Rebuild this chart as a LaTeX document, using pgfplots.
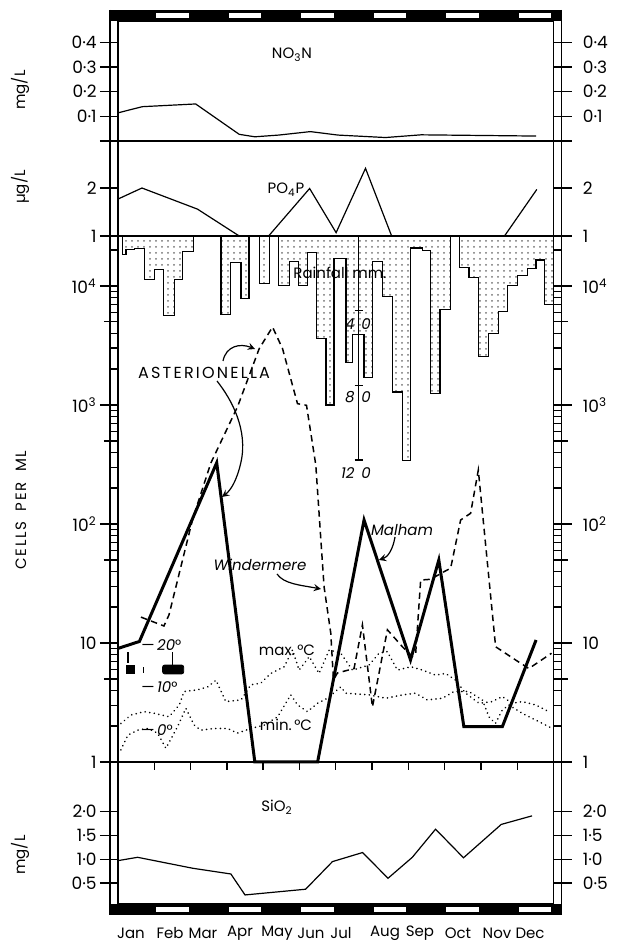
\documentclass[border=0pt]{standalone}
\usepackage{pgfplots}
\pgfplotsset{compat=1.18}
\usepackage{fontspec}
\setmainfont{Poppins}
\usetikzlibrary{patterns}
\pgfplotsset{
  base/.style={scale only axis, width=217.75pt, anchor=north west,
    xmin=0, xmax=12, xtick=\empty, tick align=outside,
    major tick length=9pt, minor tick length=4pt,
    tick style={black, line width=0.7pt},
    yticklabel style={font=\fontsize{8.5}{9}\selectfont, inner sep=1.5pt},
    axis line style={line width=0.8pt}, clip=false},
  mainP/.style={base, ytick pos=both, yticklabel pos=left},
  rightP/.style={base, ytick pos=right, yticklabel pos=right,
    yticklabel style={xshift=4pt},
    axis line style={draw=none}, tick style={draw=none}},
  ovl/.style={scale only axis, width=217.75pt, anchor=north west,
    xmin=0, xmax=12, axis lines=none, clip=false},
}
\begin{document}
\begin{tikzpicture}
\path[use as bounding box] (0,0) rectangle (311.5pt,471.5pt);

% ---------- NO3N ----------
\begin{axis}[mainP, at={(59pt,461pt)}, height=60pt, ymin=0, ymax=0.486,
  ytick={0,0.1,0.2,0.3,0.4}, yticklabels={,0·1,0·2,0·3,0·4}]
\addplot[line width=0.6pt] coordinates {(0,0.114) (0.67,0.139) (2.14,0.150) (3.34,0.027) (3.77,0.017) (4.43,0.024) (5.30,0.038) (6.06,0.024) (7.37,0.014) (8.35,0.025) (11.52,0.020)};
\end{axis}
\begin{axis}[rightP, at={(59pt,461pt)}, height=60pt, ymin=0, ymax=0.486,
  ytick={0,0.1,0.2,0.3,0.4}, yticklabels={,0·1,0·2,0·3,0·4}]
\end{axis}

% ---------- PO4P ----------
\begin{axis}[mainP, at={(59pt,401pt)}, height=47.5pt, ymin=1, ymax=2.98,
  ytick={1,2}, yticklabels={1,2}]
\addplot[line width=0.6pt] coordinates {(0,1.77) (0.66,2.0) (2.19,1.56) (3.34,1.0) (4.15,1.0) (5.28,1.99) (6.01,1.07) (6.82,2.41) (7.54,1.0) (10.65,1.0) (11.54,1.97)};
\end{axis}
\begin{axis}[rightP, at={(59pt,401pt)}, height=47.5pt, ymin=1, ymax=2.98,
  ytick={1,2}, yticklabels={1,2}]
\end{axis}

% ---------- Rainfall overlay ----------
\begin{axis}[ovl, at={(59pt,353.5pt)}, height=263pt, ymin=0, ymax=281.8, y dir=reverse]
\addplot[const plot mark left, draw=black, line width=0.6pt, pattern=dots, pattern color=black!55]
 coordinates {(0.13,9.9) (0.22,7.1) (0.45,6.6) (0.72,23.4) (1.00,18.0) (1.26,42.7) (1.55,23.4) (1.78,8.2) (2.08,0) (2.84,42.2) (3.11,14.1) (3.39,33.6) (3.61,0) (3.89,25.3) (4.17,0) (4.42,26.4) (4.72,13.8) (4.97,26.4) (5.22,8.9) (5.47,54.9) (5.73,90.5) (5.95,11.9) (6.28,67.8) (6.46,52.9) (6.78,76.0) (7.01,13.6) (7.29,32.3) (7.56,83.6) (7.84,120.2) (8.07,6.4) (8.39,7.7) (8.62,84.5) (8.87,39.4) (9.17,0) (9.41,16.9) (9.67,22.3) (9.94,64.7) (10.20,52.2) (10.48,40.6) (10.73,26.4) (11.00,21.1) (11.28,17.5) (11.52,12.9) (11.76,36.8) (12.0,36.8)} \closedcycle;
\addplot[line width=0.7pt] coordinates {(6.63,0) (6.63,120)};
\addplot[line width=0.7pt] coordinates {(6.52,40) (6.74,40)};
\addplot[line width=0.7pt] coordinates {(6.52,80) (6.74,80)};
\addplot[line width=0.7pt] coordinates {(6.52,120) (6.74,120)};
\end{axis}

% ---------- Temperature overlay ----------
\begin{axis}[ovl, at={(59pt,353.5pt)}, height=263pt, ymin=-7.38, ymax=117.86]
\addplot[line width=0.9pt, line cap=round, dash pattern=on 0.01pt off 2.3pt] coordinates {(0.08,1.8) (0.36,3.8) (0.72,4.6) (1.0,4.2) (1.41,3.4) (1.69,6.2) (1.82,9.4) (2.19,9.8) (2.47,10.5) (2.7,12.1) (2.97,7.0) (3.39,7.4) (3.66,11.0) (3.94,11.4) (4.21,13.7) (4.58,15.3) (4.81,19.3) (4.99,14.5) (5.27,17.7) (5.54,13.7) (5.82,19.3) (6.14,18.5) (6.46,14.5) (6.92,15.7) (7.19,18.5) (7.42,18.9) (7.70,14.5) (8.07,15.3) (8.39,14.5) (8.75,13.3) (9.03,13.7) (9.30,12.1) (9.58,9.0) (9.95,6.6) (10.31,7.0) (10.59,8.2) (10.86,6.6) (11.14,7.0) (11.51,6.2) (11.87,4.6)};
\addplot[line width=0.9pt, line cap=round, dash pattern=on 0.01pt off 2.3pt] coordinates {(0.08,-4.5) (0.27,-1.0) (0.54,0.2) (0.82,0.6) (1.09,-0.5) (1.32,-4.1) (1.64,1.0) (1.87,5.4) (2.10,1.4) (2.28,0.2) (2.65,0.6) (3.02,0.6) (3.29,-0.5) (3.66,0.6) (4.03,1.4) (4.40,3.4) (4.76,8.6) (4.95,6.2) (5.22,4.6) (5.50,6.6) (5.77,7.8) (6.14,10.5) (6.28,9.0) (6.92,8.6) (7.38,7.8) (7.84,8.6) (8.20,9.0) (8.52,7.4) (8.94,7.8) (9.26,9.4) (9.67,9.4) (10.04,7.4) (10.22,3.4) (10.40,1.8) (10.59,5.0) (10.77,6.2) (11.14,4.2) (11.51,2.6) (11.97,0.6)};
% ice-cover marks
\addplot[fill=black, draw=black] coordinates {(0.22,13.6) (0.45,13.6) (0.45,15.7) (0.22,15.7)} --cycle;
\addplot[fill=black, draw=black, rounded corners=1pt] coordinates {(1.23,13.6) (1.81,13.6) (1.81,15.7) (1.23,15.7)} --cycle;
\addplot[line width=0.7pt] coordinates {(0.275,16.3) (0.275,18.8)};
\addplot[line width=0.7pt] coordinates {(1.506,15.7) (1.506,18.8)};
\addplot[line width=0.7pt] coordinates {(0.707,13.9) (0.707,15.3)};
\end{axis}

% ---------- Cells per ml ----------
\begin{axis}[mainP, at={(59pt,353.5pt)}, height=263pt, ymode=log, ymin=1, ymax=26300,
  ytick={1,10,100,1000,10000},
  yticklabels={1,10,10\textsuperscript{2},10\textsuperscript{3},10\textsuperscript{4}},
  minor ytick={2,3,4,5,6,7,8,9,20,30,40,50,60,70,80,90,200,300,400,500,600,700,800,900,2000,3000,4000,5000,6000,7000,8000,9000,20000},
  extra y ticks={5,50,500,5000}, extra y tick labels={},
  extra y tick style={major tick length=7pt}]
% Malham
\addplot[line width=1.5pt] coordinates {(0,9.0) (0.59,10.3) (2.72,327) (3.77,1) (5.50,1) (6.78,108) (8.06,7.2) (8.84,49.8) (9.53,1.98) (10.59,1.98) (11.52,10.6)};
% Windermere
\addplot[line width=0.75pt, dash pattern=on 3.2pt off 2.2pt] coordinates {(0.633,16.5) (1.266,13.9) (1.404,17.2) (2.064,112) (2.56,326) (3.295,968) (3.89,2972) (4.258,4520) (4.534,2972) (4.946,1026) (5.194,994) (5.45,313) (5.678,29.7) (5.863,12.1) (5.937,4.9) (6.047,5.6) (6.504,6.1) (6.735,14.2) (7.011,2.9) (7.424,12.9) (7.836,9.3) (8.112,7.7) (8.203,8.2) (8.34,33.8) (8.615,34.3) (8.981,39.7) (9.166,42.5) (9.441,108) (9.716,123) (9.928,284) (10.405,9.3) (10.955,7.2) (11.321,6.1) (11.946,8.2)};
\end{axis}
\begin{axis}[rightP, at={(59pt,353.5pt)}, height=263pt, ymode=log, ymin=1, ymax=26300,
  ytick={1,10,100,1000,10000},
  yticklabels={1,10,10\textsuperscript{2},10\textsuperscript{3},10\textsuperscript{4}}]
\end{axis}
% month ticks at the foot of the cells panel
\begin{axis}[scale only axis, width=217.75pt, height=263pt, anchor=north west, at={(59pt,353.5pt)},
  xmin=0, xmax=12, ymin=0, ymax=1, axis line style={draw=none}, ytick=\empty,
  xtick={1,2,3,4,5,6,7,8,9,10,11}, xticklabels={}, xtick pos=left, tick align=outside,
  major tick length=4pt, tick style={black, line width=0.7pt}]
\end{axis}

% ---------- SiO2 ----------
\begin{axis}[mainP, at={(59pt,90.5pt)}, height=71pt, ymin=0.06, ymax=3.04,
  ytick={0.5,1,1.5,2}, yticklabels={0·5,1·0,1·5,2·0}]
\addplot[line width=0.6pt] coordinates {(0,0.97) (0.54,1.04) (2.06,0.81) (3.11,0.69) (3.50,0.25) (5.17,0.37) (5.91,0.95) (6.74,1.14) (7.44,0.60) (8.11,1.04) (8.75,1.63) (9.52,1.03) (10.56,1.73) (11.41,1.91)};
\end{axis}
\begin{axis}[rightP, at={(59pt,90.5pt)}, height=71pt, ymin=0.06, ymax=3.04,
  ytick={0.5,1,1.5,2}, yticklabels={0·5,1·0,1·5,2·0}]
\end{axis}

\begin{scope}[x=0.5pt, y=-0.5pt, yshift=471.5pt]
% ---------- frame and month bars ----------
\draw[line width=0.8pt] (110,10) -- (110,915);
\draw[line width=0.8pt] (561.5,10) -- (561.5,915);
\fill (110,10) rectangle (561.5,21);
\fill (110,904) rectangle (561.5,915);
\foreach \m in {1,3,5,7,9,11} {
  \draw[fill=white, line width=0.4pt] ({118+36.25*\m+1.5},12.5) rectangle ({118+36.25*(\m+1)-1.5},18.5);
  \draw[fill=white, line width=0.4pt] ({118+36.25*\m+1.5},906.5) rectangle ({118+36.25*(\m+1)-1.5},912.5);
}

% ---------- texts ----------
\begin{scope}[every node/.style={font=\fontsize{7.5}{9}\selectfont, inner sep=0pt}]
\node at (292,55) {NO\textsubscript{3}N};
\node at (286,190) {PO\textsubscript{4}P};
\node at (277,807) {SiO\textsubscript{2}};
\node at (340,273) {Rainfall mm.};
\node[font=\fontsize{8}{9}\selectfont\addfontfeatures{LetterSpace=14}] at (204,373) {ASTERIONELLA};
\node at (260,565) {\itshape Windermere};
\node at (402,530) {\itshape Malham};
\node at (287,650) {max.\,°C};
\node at (286,725) {min.\,°C};
\node[anchor=east] at (355,324) {\itshape 4};
\node[anchor=west] at (361,324) {\itshape 0};
\node[anchor=east] at (355,397) {\itshape 8};
\node[anchor=west] at (361,397) {\itshape 0};
\node[anchor=east] at (355,473) {\itshape 12};
\node[anchor=west] at (361,473) {\itshape 0};
\node[anchor=west] at (141,645) {—\,\textit{20}°};
\node[anchor=west] at (141,687) {—\,\textit{10}°};
\node[anchor=west] at (141,730) {—\,\textit{0}°};
\node[rotate=90] at (20,90) {mg/L};
\node[rotate=90] at (20,187) {µg/L};
\node[rotate=90, font=\fontsize{7.5}{9}\selectfont\addfontfeatures{LetterSpace=10}] at (21,510) {CELLS\ \ PER\ \ ML};
\node[rotate=90] at (20,855) {mg/L};
\foreach \mx/\mn in {131/Jan,170/Feb,203/Mar,240/Apr,277/May,311/Jun,341/Jul,385/Aug,420/Sep,458/Oct,497/Nov,530/Dec}
  {\node[font=\fontsize{7.5}{9}\selectfont] at (\mx,933) {\mn};}
\end{scope}

% ---------- arrows ----------
\begin{scope}[line width=0.6pt, ->, >=stealth]
\draw (223,361) .. controls (226,346) and (240,343) .. (255,349);
\draw (217,381) .. controls (232,400) and (248,430) .. (241,462) .. controls (237,480) and (231,490) .. (222,497);
\draw (277,574) .. controls (284,584) and (300,585) .. (321,589);
\draw (395,537) .. controls (393,549) and (388,557) .. (379,560);
\end{scope}
\end{scope}
\end{tikzpicture}
\end{document}
